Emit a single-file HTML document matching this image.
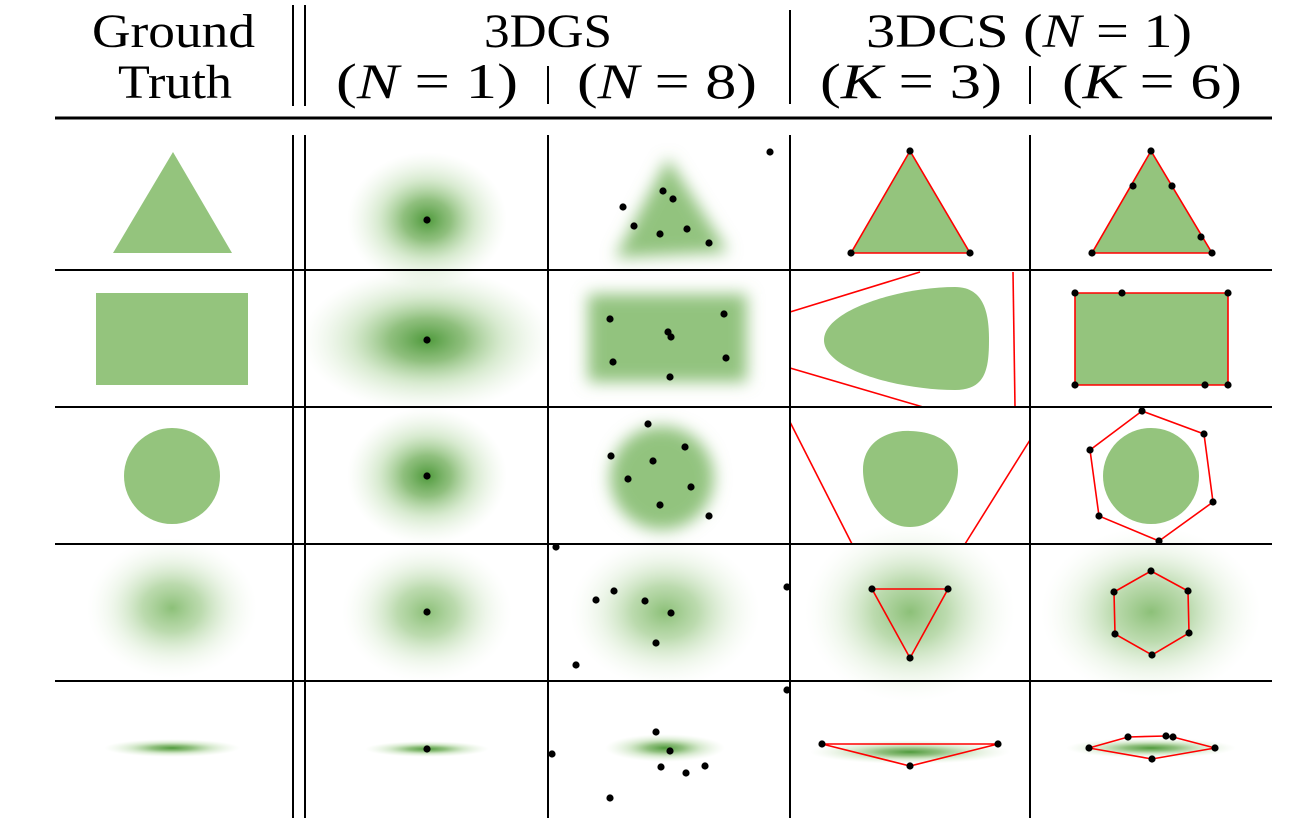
<!DOCTYPE html>
<html><head><meta charset="utf-8"><style>
html,body{margin:0;padding:0;background:#fff;}
svg{display:block;}
text{font-family:"Liberation Serif",serif;fill:#000;}
</style></head><body>
<svg id="fig" width="1289" height="823" viewBox="0 0 1289 823">
<defs>
<radialGradient id="gs" cx="50%" cy="50%" r="50%">
<stop offset="0" stop-color="#4f9a3c" stop-opacity="1"/>
<stop offset="0.3" stop-color="#74b05e" stop-opacity="0.8"/>
<stop offset="0.6" stop-color="#9ccb88" stop-opacity="0.4"/>
<stop offset="1" stop-color="#cfe6c4" stop-opacity="0"/>
</radialGradient>
<radialGradient id="gsl" cx="50%" cy="50%" r="50%">
<stop offset="0" stop-color="#8cc078" stop-opacity="1"/>
<stop offset="0.35" stop-color="#9fcb8c" stop-opacity="0.7"/>
<stop offset="0.7" stop-color="#c8e2bc" stop-opacity="0.3"/>
<stop offset="1" stop-color="#e8f3e2" stop-opacity="0"/>
</radialGradient>
<filter id="blur" x="-30%" y="-30%" width="160%" height="160%"><feGaussianBlur stdDeviation="8"/></filter>
</defs>
<g>
<text x="92" y="47" font-size="48" textLength="163" lengthAdjust="spacingAndGlyphs">Ground</text>
<text x="118" y="98" font-size="48" textLength="114" lengthAdjust="spacingAndGlyphs">Truth</text>
<text x="484" y="47" font-size="48" textLength="128" lengthAdjust="spacingAndGlyphs">3DGS</text>
<text x="336" y="98" font-size="50" textLength="182" lengthAdjust="spacingAndGlyphs">(<tspan font-style="italic">N</tspan> = 1)</text>
<text x="577" y="98" font-size="50" textLength="180" lengthAdjust="spacingAndGlyphs">(<tspan font-style="italic">N</tspan> = 8)</text>
<text x="866" y="47" font-size="48" textLength="326" lengthAdjust="spacingAndGlyphs">3DCS (<tspan font-style="italic">N</tspan> = 1)</text>
<text x="820" y="98" font-size="50" textLength="182" lengthAdjust="spacingAndGlyphs">(<tspan font-style="italic">K</tspan> = 3)</text>
<text x="1062" y="98" font-size="50" textLength="180" lengthAdjust="spacingAndGlyphs">(<tspan font-style="italic">K</tspan> = 6)</text>
</g>
<g id="cells"></g>
<g id="grid" stroke="#000">
<line x1="55" y1="118" x2="1272" y2="118" stroke-width="3"/>
<line x1="293" y1="5" x2="293" y2="106" stroke-width="2"/>
<line x1="305" y1="5" x2="305" y2="106" stroke-width="2"/>
<line x1="548" y1="66" x2="548" y2="104" stroke-width="2"/>
<line x1="790" y1="10" x2="790" y2="104" stroke-width="2"/>
<line x1="1030" y1="66" x2="1030" y2="104" stroke-width="2"/>
<line x1="293" y1="135" x2="293" y2="818" stroke-width="2"/>
<line x1="305" y1="135" x2="305" y2="818" stroke-width="2"/>
<line x1="548" y1="135" x2="548" y2="818" stroke-width="2"/>
<line x1="790" y1="135" x2="790" y2="818" stroke-width="2"/>
<line x1="1030" y1="135" x2="1030" y2="818" stroke-width="2"/>
<line x1="55" y1="270" x2="1272" y2="270" stroke-width="2"/>
<line x1="55" y1="407" x2="1272" y2="407" stroke-width="2"/>
<line x1="55" y1="544" x2="1272" y2="544" stroke-width="2"/>
<line x1="55" y1="681" x2="1272" y2="681" stroke-width="2"/>
</g>
</svg>
<script>
// Gaussian blobs: [cx, cy, rx, ry, style]
const gaussians = [
 [427,220,80,68,'gs'],[427,340,125,72,'gs'],[427,476,80,68,'gs'],
 [172,608,85,70,'gsl'],[427,612,85,70,'gsl'],[665,612,95,75,'gsl'],[910,612,105,90,'gsl'],[1151,612,110,85,'gsl'],
 [172,748,68,9,'gs'],[427,749,62,8,'gs'],[665,748,60,14,'gs'],[910,752,100,12,'gs'],[1151,748,85,10,'gs']
];
// Blurred N=8 shapes (polygons)
const blurShapes = [
 [[668,158],[615,258],[728,252]],
 [[588,294],[747,294],[747,382],[588,382]]
];
const blurCircle = [662,478,52];
// Solid shapes
const solidPolys = [
 [[173,152],[113,253],[232,253]],
 [[96,293],[248,293],[248,385],[96,385]],
 [[910,151],[851,253],[970,253]],
 [[1151,151],[1092,253],[1212,253]],
 [[1075,293],[1228,293],[1228,385],[1075,385]]
];
const solidCircles = [[172,476,48],[1151,476,48]];
const blobPaths = [
 "M824,340 C824,310 900,287 955,287 C985,287 989,315 989,340 C989,370 985,390 955,390 C900,390 824,370 824,340 Z",
 "M863,470 C863,440 890,430 910,431 C945,432 958,450 958,470 C958,495 940,527 910,527 C880,527 863,495 863,470 Z"
];
// Red outline polygons (closed)
const redPolys = [
 [[910,151],[851,253],[970,253]],
 [[1151,151],[1092,253],[1212,253]],
 [[1075,293],[1228,293],[1228,385],[1075,385]],
 [[1142,411],[1204,434],[1213,502],[1159,541],[1099,516],[1090,450]],
 [[872,589],[948,589],[910,658]],
 [[1151,571],[1188,591],[1189,633],[1152,655],[1115,634],[1114,592]],
 [[822,744],[998,744],[910,766]],
 [[1089,748],[1128,737],[1166,736],[1173,737],[1215,748],[1152,759]]
];
// Red open lines
const redLines = [
 [[790,312],[920,272]],[[790,368],[923,407]],[[1013,272],[1015,407]],
 [[790,422],[852,544]],[[1030,440],[965,544]]
];
// Points (centers)
const points = [
 [427,220],[427,340],[427,476],[427,612],[427,749],
 [770,152],[663,191],[673,199],[623,207],[634,226],[660,234],[687,229],[709,243],
 [610,319],[668,332],[671,337],[613,362],[724,314],[726,358],[670,377],
 [648,424],[611,456],[685,447],[653,461],[628,479],[691,487],[660,505],[709,516],
 [556,547],[787,587],[596,600],[614,591],[645,601],[671,613],[656,643],[576,665],
 [787,690],[552,754],[656,732],[670,751],[661,767],[686,773],[705,766],[610,798],
 [910,151],[851,253],[970,253],
 [1151,151],[1133,186],[1172,186],[1201,237],[1092,253],[1212,253],
 [1075,293],[1122,293],[1228,293],[1075,385],[1205,385],[1228,385],
 [1142,411],[1204,434],[1213,502],[1159,541],[1099,516],[1090,450],
 [872,589],[948,589],[910,658],
 [1151,571],[1188,591],[1189,633],[1152,655],[1115,634],[1114,592],
 [822,744],[998,744],[910,766],
 [1089,748],[1128,737],[1166,736],[1173,737],[1215,748],[1152,759]
];
const NS='http://www.w3.org/2000/svg';
const g=document.getElementById('cells');
function mk(t,a){const e=document.createElementNS(NS,t);for(const k in a)e.setAttribute(k,a[k]);g.appendChild(e);return e;}
const ps=p=>p.map(q=>q.join(',')).join(' ');
gaussians.forEach(d=>{const e=mk('ellipse',{cx:d[0],cy:d[1],rx:d[2],ry:d[3],fill:'url(#'+d[4]+')'});

});
blurShapes.forEach(p=>{const e=mk('polygon',{points:ps(p),fill:'#7fb868',filter:'url(#blur)','fill-opacity':0.85});

});
{const e=mk('circle',{cx:blurCircle[0],cy:blurCircle[1],r:blurCircle[2],fill:'#7fb868',filter:'url(#blur)','fill-opacity':0.85});

}
solidPolys.forEach(p=>{const e=mk('polygon',{points:ps(p),fill:'#94c47d'});

});
solidCircles.forEach(c=>{const e=mk('circle',{cx:c[0],cy:c[1],r:c[2],fill:'#94c47d'});

});
blobPaths.forEach(d=>{const e=mk('path',{d:d,fill:'#94c47d'});

});
redPolys.forEach(p=>{const e=mk('polygon',{points:ps(p),fill:'none',stroke:'#ff0000','stroke-width':1.6});

});
redLines.forEach(p=>{const e=mk('polyline',{points:ps(p),fill:'none',stroke:'#ff0000','stroke-width':1.6});

});
points.forEach(p=>{const e=mk('circle',{cx:p[0],cy:p[1],r:3.6,fill:'#000'});

});
</script>
</body></html>
